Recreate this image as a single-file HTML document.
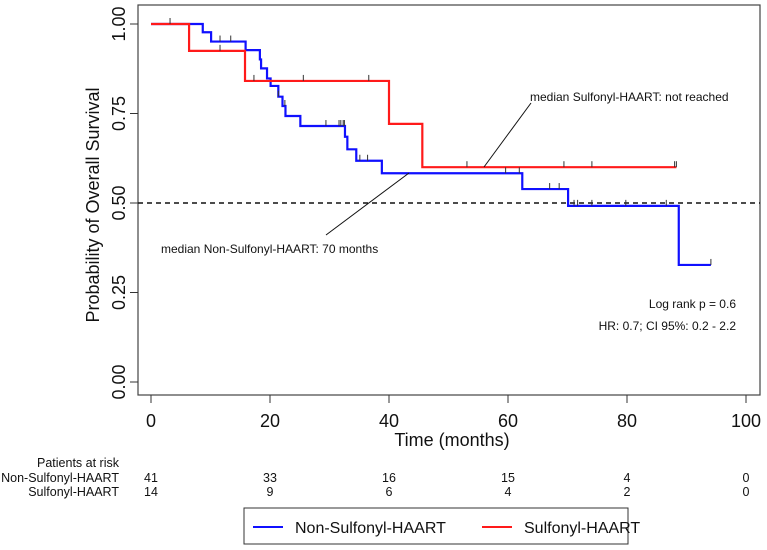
<!DOCTYPE html>
<html><head><meta charset="utf-8"><style>
body{margin:0;background:#fff;}
svg{display:block;font-family:"Liberation Sans",Arial,sans-serif;}
</style></head><body>
<svg id="chart" width="767" height="550"></svg>
<script>
const xTicks=[0,20,40,60,80,100];
const yTicks=[0,0.25,0.5,0.75,1.0];
const yTickLabels=["0.00","0.25","0.50","0.75","1.00"];
const blueTimes=[0,8.7,10.1,15.9,18.3,18.5,19.5,20.1,21.4,22.1,22.6,25.1,32.6,33.0,34.5,38.8,62.4,70.1,88.7];
const blueSurv=[1,0.977,0.951,0.927,0.901,0.876,0.848,0.827,0.797,0.771,0.743,0.715,0.685,0.650,0.618,0.583,0.539,0.492,0.327];
const blueEnd=94.1;
const blueCensT=[11.6,13.4,21.4,22.5,29.4,31.6,31.9,32.3,32.5,35.1,36.4,59.6,61.9,67.0,68.6,71.1,71.7,74.1,79.8,86.6,94.1];
const redTimes=[0,6.4,15.8,40.0,45.6];
const redSurv=[1,0.925,0.841,0.721,0.600];
const redEnd=88.3;
const redCensT=[3.2,11.6,17.3,25.6,36.6,53.1,69.4,74.1,88.0,88.3];
const riskTimes=[0,20,40,60,80,100];
const riskBlue=[41,33,16,15,4,0];
const riskRed=[14,9,6,4,2,0];
const NS="http://www.w3.org/2000/svg";
const svg=document.getElementById('chart');
const X=t=>151+5.95*t, Y=s=>382-358*s;
function el(tag,attrs,text){const e=document.createElementNS(NS,tag);for(const k in attrs)e.setAttribute(k,attrs[k]);if(text!==undefined)e.textContent=text;svg.appendChild(e);return e;}
let e;
e=el('rect',{x:138,y:5,width:622,height:390,fill:'none',stroke:'#444','stroke-width':1.2});

xTicks.forEach(t=>{
 e=el('line',{x1:X(t),x2:X(t),y1:395,y2:403,stroke:'#333'});
 
 e=el('text',{x:X(t),y:427,'font-size':18,'text-anchor':'middle',fill:'#111'},t);
 
});
yTicks.forEach((v,i)=>{
 e=el('line',{x1:130,x2:138,y1:Y(v),y2:Y(v),stroke:'#333'});
 
 e=el('text',{x:0,y:0,'font-size':18,'text-anchor':'middle',fill:'#111',transform:`translate(125,${Y(v)}) rotate(-90)`},yTickLabels[i]);
 
});
e=el('text',{x:0,y:0,'font-size':18,'text-anchor':'middle',fill:'#111',transform:'translate(99,205) rotate(-90)'},'Probability of Overall Survival');

e=el('text',{x:452,y:446,'font-size':18,'text-anchor':'middle',fill:'#111'},'Time (months)');

e=el('line',{x1:138,x2:760,y1:Y(0.5),y2:Y(0.5),stroke:'#111','stroke-width':1.6,'stroke-dasharray':'5,4'});

function stepPath(ts,ss,end){let d=`M${X(ts[0])},${Y(ss[0])}`;for(let i=1;i<ts.length;i++){d+=` H${X(ts[i])} V${Y(ss[i])}`;}d+=` H${X(end)}`;return d;}
function survAt(ts,ss,t){let s=ss[0];for(let i=0;i<ts.length;i++)if(ts[i]<=t)s=ss[i];return s;}
e=el('path',{d:stepPath(blueTimes,blueSurv,blueEnd),fill:'none',stroke:'#1010ff','stroke-width':2.2});

e=el('path',{d:stepPath(redTimes,redSurv,redEnd),fill:'none',stroke:'#ff1a1a','stroke-width':2.2});

blueCensT.forEach(t=>{const y=Y(survAt(blueTimes,blueSurv,t));
 e=el('line',{x1:X(t),x2:X(t),y1:y-6,y2:y,stroke:'#333','stroke-width':1});
 });
redCensT.forEach(t=>{const y=Y(survAt(redTimes,redSurv,t));
 e=el('line',{x1:X(t),x2:X(t),y1:y-6,y2:y,stroke:'#333','stroke-width':1});
 });
e=el('line',{x1:484,y1:167,x2:531,y2:103,stroke:'#111','stroke-width':1});

e=el('line',{x1:409,y1:173,x2:326,y2:235,stroke:'#111','stroke-width':1});

e=el('text',{x:530,y:101,'font-size':12,fill:'#111'},'median Sulfonyl-HAART: not reached');

e=el('text',{x:161,y:253,'font-size':12,fill:'#111'},'median Non-Sulfonyl-HAART: 70 months');

e=el('text',{x:736,y:308,'font-size':12,'text-anchor':'end',fill:'#111'},'Log rank p = 0.6');

e=el('text',{x:736,y:330,'font-size':12,'text-anchor':'end',fill:'#111'},'HR: 0.7; CI 95%: 0.2 - 2.2');

e=el('text',{x:119,y:467,'font-size':12.5,'text-anchor':'end',fill:'#111'},'Patients at risk');

e=el('text',{x:119,y:482,'font-size':12.5,'text-anchor':'end',fill:'#111'},'Non-Sulfonyl-HAART');

e=el('text',{x:119,y:496,'font-size':12.5,'text-anchor':'end',fill:'#111'},'Sulfonyl-HAART');

riskTimes.forEach((t,i)=>{
 e=el('text',{x:X(t),y:482,'font-size':12.5,'text-anchor':'middle',fill:'#111'},riskBlue[i]);
 
 e=el('text',{x:X(t),y:496,'font-size':12.5,'text-anchor':'middle',fill:'#111'},riskRed[i]);
 
});
e=el('rect',{x:244,y:508,width:384,height:36,fill:'#fff',stroke:'#333','stroke-width':1});

e=el('line',{x1:253,x2:283,y1:527,y2:527,stroke:'#1010ff','stroke-width':2});

e=el('text',{x:295,y:533,'font-size':16,fill:'#111'},'Non-Sulfonyl-HAART');

e=el('line',{x1:482,x2:512,y1:527,y2:527,stroke:'#ff1a1a','stroke-width':2});

e=el('text',{x:524,y:533,'font-size':16,fill:'#111'},'Sulfonyl-HAART');

</script>
</body></html>
